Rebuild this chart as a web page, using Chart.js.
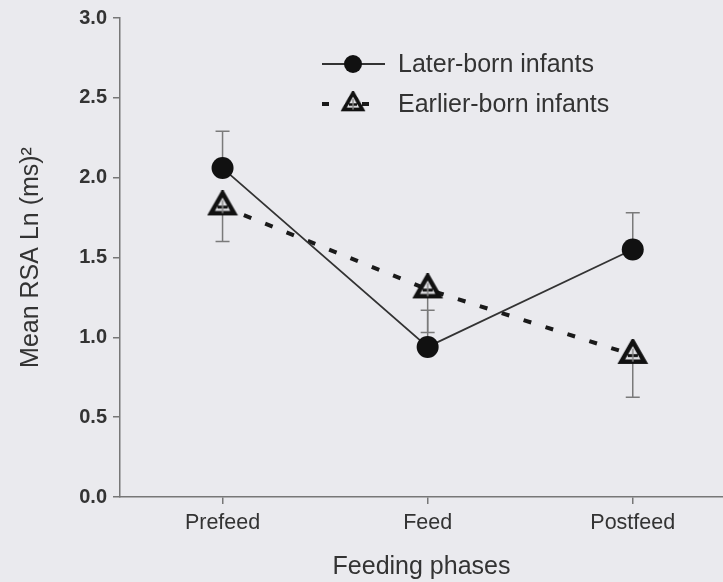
<!DOCTYPE html>
<html>
<head>
<meta charset="utf-8">
<script src="https://cdn.jsdelivr.net/npm/chart.js@4.4.0/dist/chart.umd.min.js"></script>
<style>
  html, body { margin: 0; padding: 0; background: #eaeaee; }
</style>
</head>
<body>
<canvas id="rsaChart" width="723" height="582"></canvas>
<script>
const phases = ["Prefeed", "Feed", "Postfeed"];
const laterBorn = [2.06, 0.94, 1.55];
const laterBornSE = [0.23, 0.23, 0.23];
const earlierBorn = [1.82, 1.3, 0.89];
const earlierBornSE = [0.22, 0.27, 0.265];
const yTicks = [0, 0.5, 1, 1.5, 2, 2.5, 3];

const fontFamily = "'Liberation Sans', Arial, Helvetica, sans-serif";
const textColor = "#333";
const axisColor = "#777";

// open triangle marker with a small cross bar
function makeTriangle() {
  const c = document.createElement("canvas");
  c.width = 32;
  c.height = 32;
  const g = c.getContext("2d");
  const cx = 16, h = 20, side = 23;
  const top = 16 - (2 * h) / 3;
  const base = 16 + h / 3;
  g.beginPath();
  g.moveTo(cx, top);
  g.lineTo(cx + side / 2, base);
  g.lineTo(cx - side / 2, base);
  g.closePath();
  g.fillStyle = "#e4e4e8";
  g.fill();
  g.lineWidth = 4.5;
  g.strokeStyle = "#111";
  g.stroke();
  g.lineWidth = 3;
  g.beginPath();
  g.moveTo(cx - 5, base - 6);
  g.lineTo(cx + 5, base - 6);
  g.stroke();
  g.strokeStyle = "#888";
  g.lineWidth = 1.5;
  g.beginPath();
  g.moveTo(cx, top + 7);
  g.lineTo(cx, base);
  g.stroke();
  return c;
}
const triangle = makeTriangle();

function toPoints(values) {
  return values.map((v, i) => ({ x: i, y: v }));
}

// error bars: later-born drawn upward, earlier-born downward
const errorBars = {
  id: "errorBars",
  beforeDatasetsDraw(chart) {
    const { ctx, scales } = chart;
    ctx.save();
    ctx.strokeStyle = "#7a7a7a";
    ctx.lineWidth = 1.5;
    chart.data.datasets.forEach((ds) => {
      ds.data.forEach((p, i) => {
        const x = scales.x.getPixelForValue(p.x);
        const y0 = scales.y.getPixelForValue(p.y);
        const y1 = scales.y.getPixelForValue(p.y + ds.errDir * ds.err[i]);
        ctx.beginPath();
        ctx.moveTo(x, y0);
        ctx.lineTo(x, y1);
        ctx.moveTo(x - 7, y1);
        ctx.lineTo(x + 7, y1);
        ctx.stroke();
      });
    });
    ctx.restore();
  },
};

// legend drawn inside the plot area, with slightly smaller markers
const innerLegend = {
  id: "innerLegend",
  afterDraw(chart) {
    const { ctx } = chart;
    const rows = [
      { y: 64, dash: [], width: 1.8 },
      { y: 104, dash: [7, 33], width: 4 },
    ];
    ctx.save();
    chart.data.datasets.forEach((ds, i) => {
      const r = rows[i];
      ctx.strokeStyle = ds.borderColor;
      ctx.lineWidth = r.width;
      ctx.setLineDash(r.dash);
      ctx.beginPath();
      ctx.moveTo(322, r.y);
      ctx.lineTo(i === 0 ? 385 : 372, r.y);
      ctx.stroke();
      ctx.setLineDash([]);
      if (ds.pointStyle === "circle") {
        ctx.fillStyle = ds.pointBackgroundColor;
        ctx.beginPath();
        ctx.arc(353, r.y, 9, 0, Math.PI * 2);
        ctx.fill();
      } else {
        ctx.drawImage(ds.pointStyle, 353 - 13, r.y - 13, 26, 26);
      }
      ctx.fillStyle = textColor;
      ctx.font = "25px " + fontFamily;
      ctx.textBaseline = "middle";
      ctx.fillText(ds.label, 398, r.y + 1);
    });
    ctx.restore();
  },
};

new Chart(document.getElementById("rsaChart"), {
  type: "line",
  data: {
    datasets: [
      {
        label: "Later-born infants",
        data: toPoints(laterBorn),
        err: laterBornSE,
        errDir: 1,
        borderColor: "#333",
        borderWidth: 1.8,
        pointStyle: "circle",
        pointRadius: 11,
        pointBackgroundColor: "#111",
        pointBorderColor: "#111",
        pointBorderWidth: 0,
        tension: 0,
      },
      {
        label: "Earlier-born infants",
        data: toPoints(earlierBorn),
        err: earlierBornSE,
        errDir: -1,
        borderColor: "#1a1a1a",
        borderWidth: 4,
        borderDash: [8, 15],
        pointStyle: triangle,
        pointRadius: 12,
        tension: 0,
      },
    ],
  },
  options: {
    responsive: false,
    animation: false,
    layout: {
      autoPadding: false,
      padding: { top: 17, right: 0, left: 0, bottom: 0 },
    },
    plugins: {
      legend: { display: false },
      tooltip: { enabled: false },
    },
    scales: {
      x: {
        type: "linear",
        min: -0.5,
        max: 2.44,
        afterBuildTicks: (scale) => {
          scale.ticks = phases.map((p, i) => ({ value: i }));
        },
        afterFit: (scale) => {
          scale.height = 85;
          scale.paddingLeft = 0;
          scale.paddingRight = 0;
        },
        grid: {
          drawOnChartArea: false,
          tickLength: 7,
          color: axisColor,
          lineWidth: 1.5,
        },
        border: { color: axisColor, width: 1.5 },
        ticks: {
          callback: (v) => phases[v],
          autoSkip: false,
          maxRotation: 0,
          padding: 6,
          color: textColor,
          font: { family: fontFamily, size: 21.5 },
        },
        title: {
          display: true,
          text: "Feeding phases",
          color: textColor,
          font: { family: fontFamily, size: 25 },
          padding: { top: 0, bottom: 0 },
        },
      },
      y: {
        min: 0,
        max: 3,
        afterBuildTicks: (scale) => {
          scale.ticks = yTicks.map((v) => ({ value: v }));
        },
        afterFit: (scale) => {
          scale.width = 120;
        },
        grid: {
          drawOnChartArea: false,
          tickLength: 7,
          color: axisColor,
          lineWidth: 1.5,
        },
        border: { color: axisColor, width: 1.5 },
        ticks: {
          callback: (v) => v.toFixed(1),
          padding: 6,
          color: textColor,
          font: { family: fontFamily, size: 20, weight: "bold" },
        },
        title: {
          display: true,
          text: "Mean RSA Ln (ms)\u00b2",
          color: textColor,
          font: { family: fontFamily, size: 25 },
          padding: { top: 16, bottom: 0 },
        },
      },
    },
  },
  plugins: [errorBars, innerLegend],
});
</script>
</body>
</html>
